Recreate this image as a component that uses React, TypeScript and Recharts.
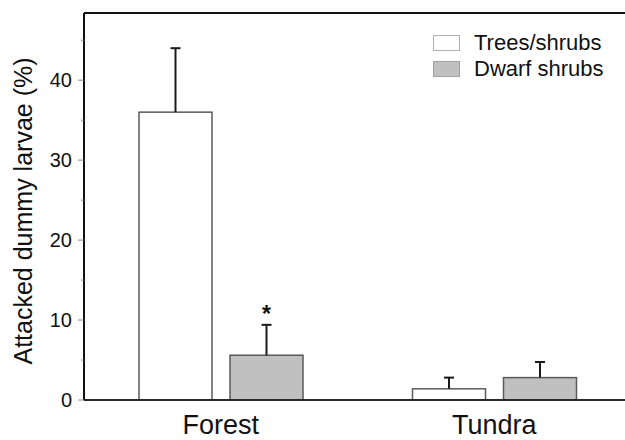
import React from 'react';
import { BarChart, Bar, XAxis, YAxis, Legend, ReferenceLine } from 'recharts';

const categories = ['Forest', 'Tundra'];
const seriesNames = ['Trees/shrubs', 'Dwarf shrubs'];
const treesShrubs = [36, 1.4];
const treesShrubsErr = [8, 1.4];
const dwarfShrubs = [5.6, 2.8];
const dwarfShrubsErr = [3.8, 1.95];
const dwarfSig = [true, false];
const yTicks = [0, 5, 10, 15, 20, 25, 30, 35, 40, 45];
const yMax = 48.4;
const yLabel = 'Attacked dummy larvae (%)';

const FONT = '"Liberation Sans", Arial, Helvetica, sans-serif';
const WHITE_FILL = '#ffffff';
const GRAY_FILL = '#c0c0c0';
const BAR_STROKE = '#5a5a5a';

const data = categories.map((c, i) => ({
  category: c,
  trees: treesShrubs[i],
  treesErr: treesShrubsErr[i],
  treesSig: false,
  dwarf: dwarfShrubs[i],
  dwarfErr: dwarfShrubsErr[i],
  dwarfSig: dwarfSig[i],
}));

const makeShape = (valKey: string, errKey: string, sigKey: string) => (props: any) => {
  const { x, y, width, height, fill, payload } = props;
  const v = payload[valKey];
  const e = payload[errKey];
  const ppu = v ? height / v : 0;
  const top = y - e * ppu;
  const cx = x + width / 2;
  return (
    <g>
      <rect x={x} y={y} width={width} height={height} fill={fill} stroke={BAR_STROKE} strokeWidth={1.5} />
      <line x1={cx} x2={cx} y1={y} y2={top} stroke="#1a1a1a" strokeWidth={2} />
      <line x1={cx - 5} x2={cx + 5} y1={top} y2={top} stroke="#1a1a1a" strokeWidth={2} />
      {payload[sigKey] ? (
        <text x={cx} y={top - 3} textAnchor="middle" fontSize={23} fontWeight="bold" fontFamily={FONT} fill="#111">*</text>
      ) : null}
    </g>
  );
};

const YTick = (props: any) => {
  const { x, y, payload } = props;
  const v = payload.value;
  const major = v % 10 === 0;
  const ax = x + 12;
  return (
    <g>
      <line x1={ax - (major ? 6 : 3)} x2={ax} y1={y} y2={y} stroke="#888" strokeWidth={1} />
      {major ? (
        <text x={x} y={y} dy="0.355em" textAnchor="end" fontSize={20} fontFamily={FONT} fill="#111">{v}</text>
      ) : null}
    </g>
  );
};

const YLabel = () => {
  const cy = 211;
  const bx = 32;
  return (
    <text x={bx} y={cy} transform={`rotate(-90, ${bx}, ${cy})`} textAnchor="middle" fontSize={25} fontFamily={FONT} fill="#111">
      {yLabel}
    </text>
  );
};

const legendFills = [WHITE_FILL, GRAY_FILL];
const legendBorders = ['#b0b0b0', '#a0a0a0'];

const renderLegend = () => (
  <div style={{ fontFamily: FONT }}>
    {seriesNames.map((n, i) => (
      <div key={n} style={{ display: 'flex', alignItems: 'center', height: 26, whiteSpace: 'nowrap' }}>
        <div style={{ width: 25, height: 14, background: legendFills[i], border: `1px solid ${legendBorders[i]}`, marginRight: 14 }} />
        <span style={{ fontSize: 22, color: '#111', lineHeight: '26px' }}>{n}</span>
      </div>
    ))}
  </div>
);

export default function App() {
  return (
    <div style={{ position: 'fixed', left: 0, top: 0, width: 625, height: 440, overflow: 'hidden', background: '#fff' }}>
      <BarChart
        width={631}
        height={440}
        data={data}
        margin={{ top: 13, right: 0, bottom: 0, left: 0 }}
        barSize={73}
        barGap={18}
      >
        <XAxis
          dataKey="category"
          height={40}
          tickLine={false}
          tickSize={8}
          tickMargin={7}
          axisLine={{ stroke: '#2a2a2a', strokeWidth: 2 }}
          tick={{ fontSize: 27, fill: '#111', fontFamily: FONT }}
        />
        <YAxis
          width={84}
          domain={[0, yMax]}
          ticks={yTicks}
          interval={0}
          tickLine={false}
          tickSize={6}
          tickMargin={6}
          axisLine={{ stroke: '#111', strokeWidth: 2 }}
          tick={<YTick />}
          label={<YLabel />}
        />
        <ReferenceLine y={yMax} stroke="#111" strokeWidth={2} ifOverflow="visible" />
        <Bar dataKey="trees" name={seriesNames[0]} fill={WHITE_FILL} isAnimationActive={false} shape={makeShape('trees', 'treesErr', 'treesSig')} />
        <Bar dataKey="dwarf" name={seriesNames[1]} fill={GRAY_FILL} isAnimationActive={false} shape={makeShape('dwarf', 'dwarfErr', 'dwarfSig')} />
        <Legend
          layout="vertical"
          align="center"
          verticalAlign="middle"
          content={renderLegend}
          wrapperStyle={{ position: 'absolute', left: 433, top: 30, width: 200, height: 52 }}
        />
      </BarChart>
    </div>
  );
}
